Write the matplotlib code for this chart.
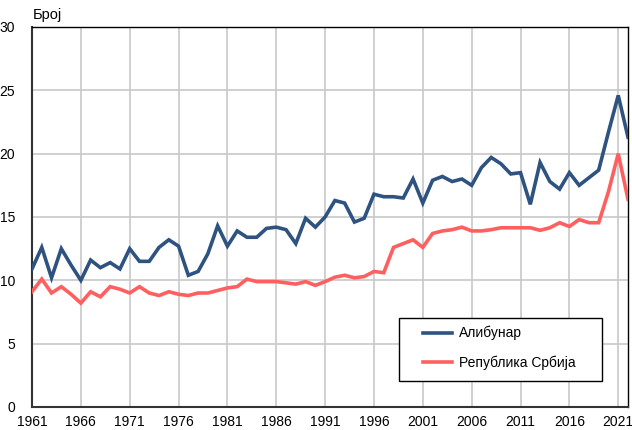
import numpy as np
import matplotlib.pyplot as plt
from matplotlib.patches import Rectangle

plt.rcParams['font.family'] = ['Liberation Sans', 'DejaVu Sans']

# године 1961-2022
godine = list(range(1961, 2023))

alibunar = [10.9, 12.6, 10.2, 12.5, 11.2, 10.0, 11.6, 11.0, 11.4, 10.9,
            12.5, 11.5, 11.5, 12.6, 13.2, 12.7, 10.4, 10.7, 12.1, 14.3,
            12.7, 13.9, 13.4, 13.4, 14.1, 14.2, 14.0, 12.9, 14.9, 14.2,
            15.0, 16.3, 16.1, 14.6, 14.9, 16.8, 16.6, 16.6, 16.5, 18.0,
            16.1, 17.9, 18.2, 17.8, 18.0, 17.5, 18.9, 19.7, 19.2, 18.4,
            18.5, 16.0, 19.3, 17.8, 17.2, 18.5, 17.5, 18.1, 18.7, 21.7,
            24.6, 21.3]

srbija = [9.1, 10.1, 9.0, 9.5, 8.9, 8.2, 9.1, 8.7, 9.5, 9.3,
          9.0, 9.5, 9.0, 8.8, 9.1, 8.9, 8.8, 9.0, 9.0, 9.2,
          9.4, 9.5, 10.1, 9.9, 9.9, 9.9, 9.8, 9.7, 9.9, 9.6,
          9.9, 10.25, 10.4, 10.2, 10.3, 10.7, 10.6, 12.6, 12.9, 13.2,
          12.6, 13.7, 13.9, 14.0, 14.2, 13.9, 13.9, 14.0, 14.15, 14.15,
          14.15, 14.15, 13.95, 14.15, 14.55, 14.25, 14.8, 14.55, 14.55, 17.0,
          20.0, 16.4]

xticks = list(range(1961, 2022, 5))
yticks = [0, 5, 10, 15, 20, 25, 30]

fig = plt.figure(figsize=(6.32, 4.30), dpi=100)
ax = fig.add_axes([32 / 632, 23 / 430, 596 / 632, 380 / 430])

ax.plot(godine, alibunar, color='#2f5381', linewidth=2.6, label='Алибунар',
        solid_joinstyle='miter', zorder=3)
ax.plot(godine, srbija, color='#ff5f5f', linewidth=2.6, label='Република Србија',
        solid_joinstyle='miter', zorder=3)

ax.set_xlim(1961, 2022)
ax.set_ylim(0, 30)
ax.set_xticks(xticks)
ax.set_yticks(yticks)
ax.tick_params(length=0, labelsize=10, colors='black')
ax.tick_params(axis='x', pad=6)
ax.tick_params(axis='y', pad=12)
ax.grid(True, color='#c8c8c8', linewidth=1.2)
ax.set_axisbelow(True)

for s in ['left', 'bottom']:
    ax.spines[s].set_color('#333333')
    ax.spines[s].set_linewidth(1.5)
for s in ['top', 'right']:
    ax.spines[s].set_color('black')
    ax.spines[s].set_linewidth(1.0)

# оквир легенде
ax.add_patch(Rectangle((399 / 632, 1 - 381 / 430), 203 / 632, 63 / 430,
                       transform=fig.transFigure, facecolor='white',
                       edgecolor='black', linewidth=1.0, zorder=4, clip_on=False))
leg = ax.legend(loc='upper left', bbox_to_anchor=(423 / 632, 1 - 326 / 430),
                bbox_transform=fig.transFigure, fontsize=10, frameon=False,
                handlelength=2.1, labelspacing=1.1, borderpad=0, borderaxespad=0,
                handletextpad=0.5)
leg.set_zorder(5)

fig.text(33 / 632, 1 - 15 / 430, 'Број', fontsize=10.5, va='center', ha='left')

fig.savefig('out.png', dpi=100)
